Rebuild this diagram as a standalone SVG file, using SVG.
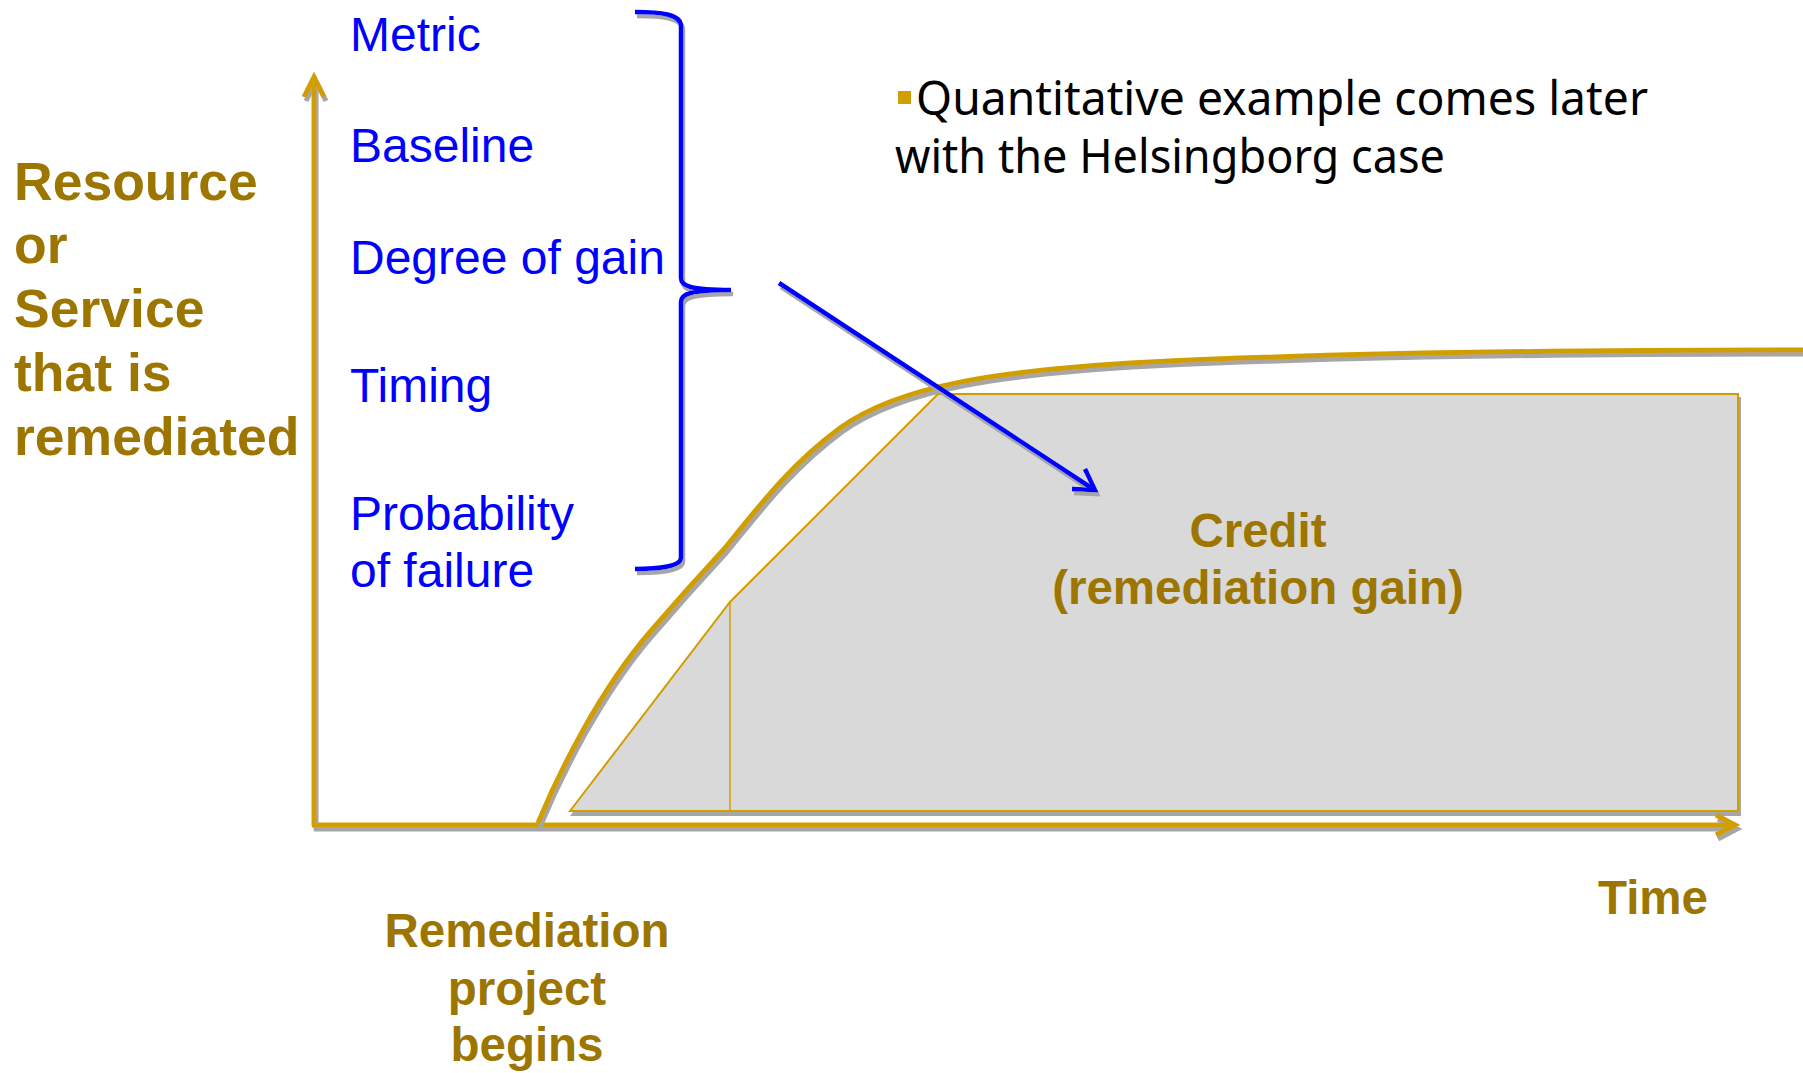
<svg xmlns="http://www.w3.org/2000/svg" width="1803" height="1073" viewBox="0 0 1803 1073">
  <style>
    .gold { stroke: #D19E00; fill: none; }
    .axis { stroke: #D19E00; stroke-width: 5; fill: none; stroke-linejoin: miter; }
    .blue-line { stroke: #0000FF; fill: none; stroke-width: 4.5; }
    .lbl { font-family: "Liberation Sans", Arial, sans-serif; font-weight: bold; fill: #9C7600; }
    .item { font-family: "Liberation Sans", Arial, sans-serif; font-size: 48px; fill: #0000FF; }
    .note { font-family: "Noto Sans", "DejaVu Sans", sans-serif; font-size: 47px; fill: #000000; }
  </style>
  <defs>
    <filter id="shadow" x="-5%" y="-5%" width="115%" height="115%">
      <feOffset in="SourceAlpha" dx="2" dy="4" result="off"/>
      <feFlood flood-color="#A6A6A6"/>
      <feComposite in2="off" operator="in" result="sh"/>
      <feMerge>
        <feMergeNode in="sh"/>
        <feMergeNode in="SourceGraphic"/>
      </feMerge>
    </filter>
  </defs>

  <rect width="1803" height="1073" fill="#FFFFFF"/>

  <!-- credit area under the curve -->
  <g id="credit-area" filter="url(#shadow)">
    <polygon points="570,811 730,602 938,394 1738,394 1738,811" fill="#D9D9D9" stroke="#D19E00" stroke-width="2"/>
    <line x1="730" y1="602" x2="730" y2="811" stroke="#D19E00" stroke-width="1.5"/>
  </g>

  <!-- axes -->
  <g id="axes" filter="url(#shadow)">
    <line class="axis" x1="314" y1="80" x2="314" y2="826"/>
    <polyline class="axis" points="304,97 314,77 324,97"/>
    <line class="axis" x1="312" y1="825" x2="1734" y2="825"/>
    <polyline class="axis" points="1716,815 1735,825 1716,835"/>
  </g>

  <!-- resource recovery curve -->
  <g id="curve" filter="url(#shadow)">
    <path class="gold" stroke-width="5" d="M538,823 C560,770 600,690 650,632 C675,603 700,575 725,548 C760,505 790,465 840,428 C900,385 1000,370 1150,362 C1350,352 1600,350 1803,350"/>
  </g>

  <!-- brace grouping the factors -->
  <g id="brace" filter="url(#shadow)">
    <path class="blue-line" d="M635,12 C660,12 681,14 681,26 L681,278 C681,286 690,290 731,290 C690,290 681,294 681,302 L681,558 C681,566 660,569 635,569"/>
  </g>

  <!-- connectors -->
  <g id="connectors" filter="url(#shadow)">
    <line class="blue-line" x1="779" y1="283" x2="1093" y2="489"/>
    <polyline class="blue-line" stroke-width="5" points="1085,469 1095,490 1072,489"/>
  </g>

  <!-- factor list -->
  <g id="factors">
    <text class="item" x="350" y="51">Metric</text>
    <text class="item" x="350" y="162">Baseline</text>
    <text class="item" x="350" y="274">Degree of gain</text>
    <text class="item" x="350" y="402">Timing</text>
    <text class="item" x="350" y="530">Probability</text>
    <text class="item" x="350" y="587">of failure</text>
  </g>

  <!-- vertical axis title -->
  <g id="y-label" class="lbl" font-size="53.5">
    <text x="14" y="200">Resource</text>
    <text x="14" y="263">or</text>
    <text x="14" y="327">Service</text>
    <text x="14" y="391">that is</text>
    <text x="14" y="455">remediated</text>
  </g>

  <!-- start of remediation -->
  <g id="start-label" class="lbl" font-size="47.5" text-anchor="middle">
    <text x="527" y="947">Remediation</text>
    <text x="527" y="1005">project</text>
    <text x="527" y="1061">begins</text>
  </g>

  <!-- horizontal axis title -->
  <g id="x-label" class="lbl" font-size="47.5">
    <text x="1598" y="914">Time</text>
  </g>

  <!-- credit label -->
  <g id="credit-label" class="lbl" font-size="47.5" text-anchor="middle">
    <text x="1258" y="547">Credit</text>
    <text x="1258" y="604">(remediation gain)</text>
  </g>

  <!-- side note -->
  <g id="note">
    <rect x="898" y="91" width="13" height="13" fill="#D19E00"/>
    <text class="note" x="916" y="115" textLength="732" lengthAdjust="spacingAndGlyphs">Quantitative example comes later</text>
    <text class="note" x="895" y="173" textLength="550" lengthAdjust="spacingAndGlyphs">with the Helsingborg case</text>
  </g>
</svg>
